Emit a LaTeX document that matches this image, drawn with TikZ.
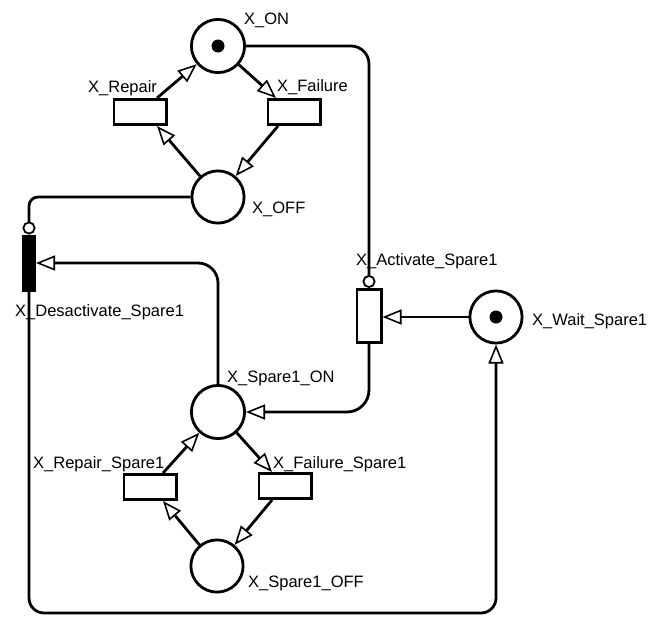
\documentclass[tikz,border=0pt]{standalone}
\usepackage{fontspec}
\setmainfont{Liberation Sans}
\usetikzlibrary{arrows.meta,calc}
\begin{document}
\begin{tikzpicture}[x=1pt,y=-1pt,
 pl/.style={circle,draw,line width=2.8pt,minimum size=52.2pt,inner sep=0pt},
 tr/.style={rectangle,draw,line width=2.8pt,minimum width=52.2pt,minimum height=25.2pt,inner sep=0pt},
 trv/.style={rectangle,draw,line width=2.8pt,minimum width=24.2pt,minimum height=53.2pt,inner sep=0pt},
 lab/.style={anchor=base west,inner sep=0pt,font=\fontsize{16.5}{18}\selectfont},
 arc/.style={line width=2.8pt,-{Triangle[length=19pt,width=15pt,fill=white,line width=1.6pt]}},
 inh/.style={line width=2.8pt,-{Circle[length=13pt,fill=white,line width=1.8pt]}},
 tok/.style={circle,fill=black,minimum size=13pt,inner sep=0pt}]
\useasboundingbox (0,0) rectangle (650,616);
% places and transitions
\node[pl,minimum size=53.2pt] (ON) at (218,46) {};
\node[tok] (tON) at (ON) {};
\node[pl] (OFF) at (218,197) {};
\node[tr] (Rep) at (140,112) {};
\node[tr] (Fail) at (294,112) {};
\node[trv] (Act) at (369,316) {};
\node[trv,fill=black,minimum width=11.2pt,minimum height=54.2pt] (Des) at (29,263) {};
\node[pl] (Wait) at (496,317) {};
\node[tok] (tWait) at (Wait) {};
\node[pl,minimum size=53.2pt] (SON) at (218,412) {};
\node[tr] (RepS) at (150,487) {};
\node[tr] (FailS) at (285,486) {};
\node[pl] (SOFF) at (217,566) {};
% labels
\node[lab] (lON) at (244,24) {X\_ON};
\node[lab] (lRep) at (88,92) {X\_Repair};
\node[lab] (lFail) at (277,91) {X\_Failure};
\node[lab] (lOFF) at (252,213) {X\_OFF};
\node[lab] (lAct) at (356,265) {X\_Activate\_Spare1};
\node[lab] (lDes) at (15,316) {X\_Desactivate\_Spare1};
\node[lab] (lWait) at (532,325) {X\_Wait\_Spare1};
\node[lab] (lSON) at (227,382) {X\_Spare1\_ON};
\node[lab] (lRepS) at (33,468) {X\_Repair\_Spare1};
\node[lab] (lFailS) at (273,468) {X\_Failure\_Spare1};
\node[lab] (lSOFF) at (248,587) {X\_Spare1\_OFF};
% upper cycle
\draw[arc] ($(Rep.north)+(17,0)$) -- (ON);
\draw[arc] (ON) -- ($(Fail.north)+(-18,0)$);
\draw[arc] ($(Fail.south)+(-16,0)$) -- (OFF);
\draw[arc] (OFF) -- ($(Rep.south)+(17,0)$);
% lower cycle
\draw[arc] ($(RepS.north)+(13,0)$) -- (SON);
\draw[arc] (SON) -- ($(FailS.north)+(-13,0)$);
\draw[arc] ($(FailS.south)+(-13,0)$) -- (SOFF);
\draw[arc] (SOFF) -- ($(RepS.south)+(13,0)$);
% activation / deactivation
\draw[inh,rounded corners=18pt] (ON.east) -| (Act.north);
\draw[arc] (Wait.west) -- (Wait.west -| Act.east);
\draw[arc,rounded corners=22pt] (Act.south) |- (SON.east);
\draw[arc,rounded corners=20pt] (SON.north) |- (Des.east);
\draw[inh,rounded corners=9pt] (OFF.west) -| (Des.north);
\coordinate (bot) at (0,613);
\draw[arc,rounded corners=15pt] (Des.south) -- (Des.south |- bot) -| (Wait.south);
\end{tikzpicture}
\end{document}
